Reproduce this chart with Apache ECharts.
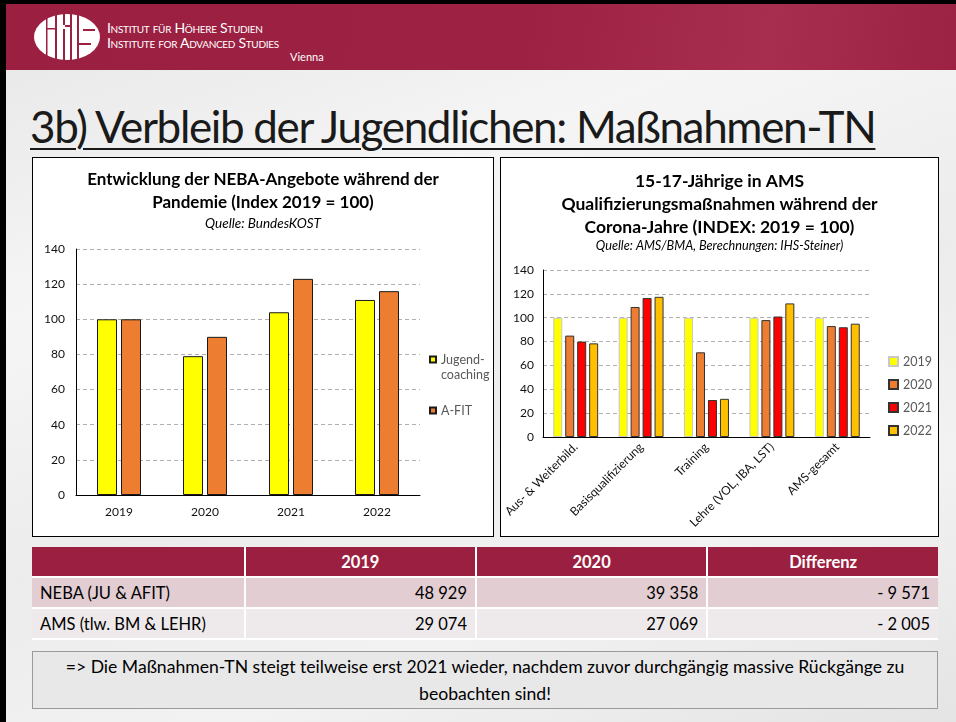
<!DOCTYPE html>
<html lang="de">
<head>
<meta charset="UTF-8">
<title>3b) Verbleib der Jugendlichen: Maßnahmen-TN</title>
<script src="https://cdn.jsdelivr.net/npm/echarts@6/dist/echarts.min.js"></script>
<style type="text/css">
  body { margin: 0; width: 956px; height: 722px; overflow: hidden; font-family: Lato, "Open Sans", sans-serif; }
  #slide { position: absolute; left: 0; top: 0; width: 956px; height: 722px;
    background: linear-gradient(160deg, #e6e6e6 0%, #f5f5f5 30%, #ececec 55%, #f2f2f2 75%, #e4e4e4 100%); }
  #frameL { position: absolute; left: 0; top: 0; width: 6px; height: 722px; background: #000; }
  #frameT { position: absolute; left: 0; top: 0; width: 956px; height: 4px; background: #000; }
  #header { position: absolute; left: 6px; top: 4px; width: 950px; height: 66px;
    background: linear-gradient(100deg, #9a1f41 0%, #9c2143 55%, #a82e4f 80%, #9b2243 100%); }
  #logo { position: absolute; left: 27px; top: 9px; }
  .inst { position: absolute; color: #fff; font-variant: small-caps; font-size: 14px; letter-spacing: -0.3px; }
  #title { position: absolute; left: 30px; top: 100px; font-size: 44px; font-weight: 400; color: #1a1a1a;
    letter-spacing: -1.35px; text-decoration: underline; text-decoration-thickness: 2px; text-underline-offset: 5px; white-space: nowrap; }
  .chart { position: absolute; background: #fff; border: 1px solid #000; }
  #c1 { left: 32px; top: 157px; width: 460px; height: 378px; }
  #c2 { left: 500px; top: 157px; width: 437px; height: 378px; }
  #tbl { position: absolute; left: 32px; top: 547px; width: 906px; border-collapse: collapse; font-size: 16.5px; }
  #tbl td { height: 29px; padding: 0 8px; border: 2px solid #fff; }
  #tbl tr:first-child td { border-top: 0; }
  #tbl td:first-child { border-left: 0; }
  #tbl td:last-child { border-right: 0; }
  #tbl .head td { background: #9b1f40; color: #fff; font-weight: bold; text-align: center; }
  #tbl .r0 td { background: #e1cdd2; }
  #tbl .r1 td { background: #eee9ea; }
  #tbl .num { text-align: right; }
  #note { position: absolute; left: 32px; top: 651px; width: 904px; height: 55px; border: 1px solid #9a9a9a;
    background: #e8e8e8; font-size: 17.6px; text-align: center; line-height: 27px; padding-top: 1px; white-space: nowrap; }
</style>
</head>
<body>
<div id="slide">
  <div id="header">
    <svg id="logo" width="70" height="50">
      <ellipse cx="34" cy="24" rx="33" ry="23" fill="#fff"/>
      <rect x="13" y="0" width="1.5" height="50" fill="#9b2042"/>
      <rect x="13" y="15" width="10" height="1.5" fill="#9b2042"/>
      <rect x="22" y="0" width="2" height="50" fill="#9b2042"/>
      <rect x="30" y="16" width="2" height="34" fill="#9b2042"/>
      <rect x="30" y="0" width="2" height="12" fill="#9b2042"/>
      <rect x="32" y="12" width="6" height="2" fill="#9b2042"/>
      <rect x="37" y="0" width="2" height="50" fill="#9b2042"/>
      <rect x="44" y="0" width="2" height="50" fill="#9b2042"/>
      <path d="M50 17 H62 M46 31 H58" stroke="#9b2042" stroke-width="2" fill="none"/>
    </svg>
    <div class="inst" style="left:101px; top:15px;">Institut für Höhere Studien</div>
    <div class="inst" style="left:101px; top:30px;">Institute for Advanced Studies</div>
    <div class="inst" style="left:284px; top:46px; font-size:11px; font-variant:normal; letter-spacing:0;">Vienna</div>
  </div>
  <div id="frameL"></div>
  <div id="frameT"></div>
  <div id="title">3b) Verbleib der Jugendlichen: Maßnahmen-TN</div>
  <div id="c1" class="chart"></div>
  <div id="c2" class="chart"></div>
  <table id="tbl"></table>
  <div id="note">=&gt; Die Maßnahmen-TN steigt teilweise erst 2021 wieder, nachdem zuvor durchgängig massive Rückgänge zu<br>beobachten sind!</div>
</div>
<script type="text/javascript">
// Daten linkes Diagramm (NEBA)
var nebaYears = ['2019', '2020', '2021', '2022'];
var jugendcoaching = [100, 79, 104, 111];
var afit = [100, 90, 123, 116];

// Daten rechtes Diagramm (AMS)
var amsCategories = ['Aus- & Weiterbild.', 'Basisqualifizierung', 'Training', 'Lehre (VOL, IBA, LST)', 'AMS-gesamt'];
var ams2019 = [100, 100, 100, 100, 100];
var ams2020 = [85, 109, 71, 98, 93];
var ams2021 = [80, 116.5, 31, 101, 92];
var ams2022 = [78.5, 117.5, 32, 112, 95];

// Tabelle
var tableHead = ['', '2019', '2020', 'Differenz'];
var tableRows = [
  ['NEBA (JU & AFIT)', '48 929', '39 358', '- 9 571'],
  ['AMS (tlw. BM & LEHR)', '29 074', '27 069', '- 2 005']
];

var FONT = 'Lato';

// Tabelle aufbauen
var tbl = document.getElementById('tbl');
var html = '<tr class="head">';
var widths = [213, 231, 231, 231];
tableHead.forEach(function (h, i) { html += '<td style="width:' + (widths[i] - 16) + 'px">' + h + '</td>'; });
html += '</tr>';
tableRows.forEach(function (row, r) {
  html += '<tr class="r' + r + '">';
  row.forEach(function (c, i) { html += '<td' + (i > 0 ? ' class="num"' : '') + '>' + c + '</td>'; });
  html += '</tr>';
});
tbl.innerHTML = html;

function valueAxis(labelMargin) {
  return {
    type: 'value', min: 0, max: 140, interval: 20,
    axisLine: { show: true, lineStyle: { color: '#000', width: 1 } },
    axisTick: { show: false },
    axisLabel: { color: '#111', fontSize: 12, fontFamily: FONT, margin: labelMargin },
    splitLine: { lineStyle: { color: '#b0b0b0', type: [4, 3] } }
  };
}

// linkes Diagramm
var chart1 = echarts.init(document.getElementById('c1'));
chart1.setOption({
  animation: false,
  title: [{
    text: 'Entwicklung der NEBA-Angebote während der\nPandemie (Index 2019 = 100)',
    left: 'center', top: 10, padding: 0,
    textStyle: { fontFamily: FONT, fontSize: 17, fontWeight: 'bold', color: '#000', lineHeight: 23 }
  }, {
    text: 'Quelle: BundesKOST',
    left: 'center', top: 59, padding: 0,
    textStyle: { fontFamily: FONT, fontSize: 13.5, fontStyle: 'italic', fontWeight: 'normal', color: '#000' }
  }],
  grid: { left: 43, right: 73, top: 91, bottom: 41 },
  legend: [{
    // leere erste Zeile, damit das Symbol neben "Jugend-" steht
    data: ['Jugendcoaching'], orient: 'vertical', left: 396, top: 179, padding: 0,
    itemWidth: 6, itemHeight: 6, icon: 'rect',
    formatter: function () { return '\nJugend-\ncoaching'; },
    textStyle: { fontFamily: FONT, fontSize: 12.5, color: '#595959', lineHeight: 15 }
  }, {
    data: ['A-FIT'], orient: 'vertical', left: 396, top: 246, padding: 0,
    itemWidth: 6, itemHeight: 6, icon: 'rect',
    textStyle: { fontFamily: FONT, fontSize: 12.5, color: '#595959' }
  }],
  xAxis: {
    type: 'category', data: nebaYears,
    axisLine: { lineStyle: { color: '#000' } },
    axisTick: { show: false },
    axisLabel: { color: '#111', fontSize: 12, fontFamily: FONT, margin: 11 }
  },
  yAxis: valueAxis(11),
  series: [{
    name: 'Jugendcoaching', type: 'bar', data: jugendcoaching, barWidth: 20, barGap: '20%',
    itemStyle: { color: '#ffff00', borderColor: '#1a1a1a', borderWidth: 1 }
  }, {
    name: 'A-FIT', type: 'bar', data: afit, barWidth: 20, barGap: '20%',
    itemStyle: { color: '#ed7d31', borderColor: '#1a1a1a', borderWidth: 1 }
  }]
});

// rechtes Diagramm
var chart2 = echarts.init(document.getElementById('c2'));
var amsSeries = [
  { name: '2019', data: ams2019, color: '#ffff00', border: '#c8c8c8' },
  { name: '2020', data: ams2020, color: '#ed7d31', border: '#333' },
  { name: '2021', data: ams2021, color: '#ff0000', border: '#333' },
  { name: '2022', data: ams2022, color: '#ffc000', border: '#333' }
];
chart2.setOption({
  animation: false,
  title: [{
    text: '15-17-Jährige in AMS\nQualifizierungsmaßnahmen während der\nCorona-Jahre (INDEX: 2019 = 100)',
    left: 'center', top: 12, padding: 0,
    textStyle: { fontFamily: FONT, fontSize: 17.5, fontWeight: 'bold', color: '#000', lineHeight: 23 }
  }, {
    text: 'Quelle: AMS/BMA, Berechnungen: IHS-Steiner)',
    left: 'center', top: 81, padding: 0,
    textStyle: { fontFamily: FONT, fontSize: 12.7, fontStyle: 'italic', fontWeight: 'normal', color: '#000' }
  }],
  grid: { left: 40, right: 68, top: 112, bottom: 99 },
  legend: {
    data: amsSeries.map(function (s) { return s.name; }),
    orient: 'vertical', left: 387, top: 196, padding: 0, itemGap: 8,
    itemWidth: 9, itemHeight: 9, icon: 'rect',
    textStyle: { fontFamily: FONT, fontSize: 12.5, color: '#595959', lineHeight: 15 }
  },
  xAxis: {
    type: 'category', data: amsCategories,
    axisLine: { lineStyle: { color: '#000' } },
    axisTick: { show: false },
    axisLabel: { color: '#111', fontSize: 12, fontFamily: FONT, rotate: 45, margin: 8, interval: 0 }
  },
  yAxis: valueAxis(9),
  series: amsSeries.map(function (s) {
    return {
      name: s.name, type: 'bar', data: s.data, barWidth: 9, barGap: '33%',
      itemStyle: { color: s.color, borderColor: s.border, borderWidth: 1 }
    };
  })
});
</script>
</body>
</html>
